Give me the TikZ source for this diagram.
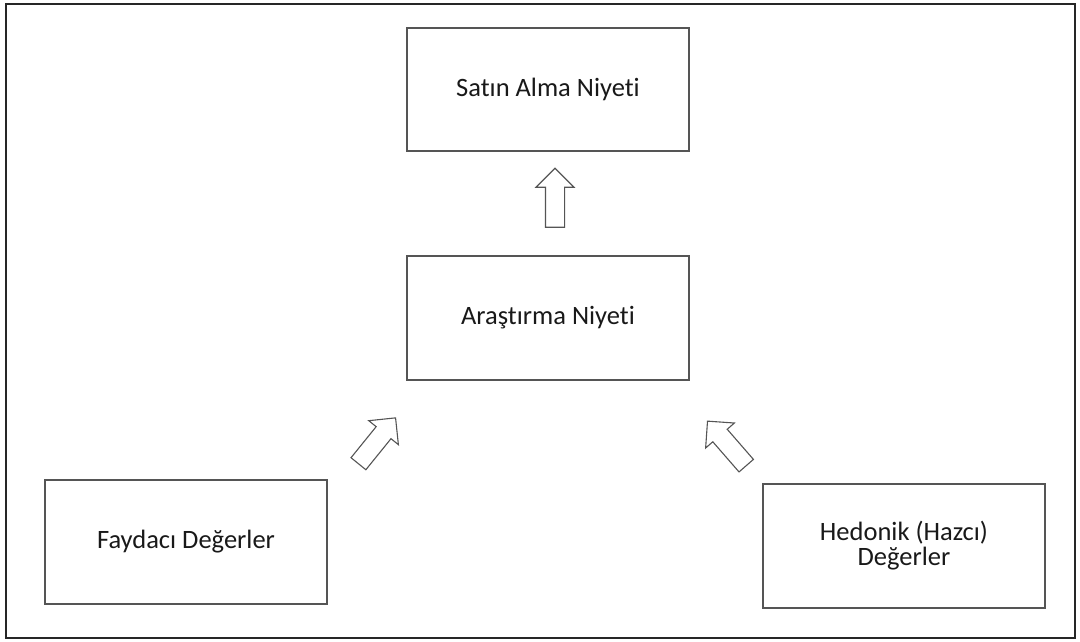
\documentclass[tikz,border=0pt]{standalone}
\usepackage{fontspec}
\setmainfont[Ligatures=NoCommon]{Carlito}
\usepackage{tikz}
\usetikzlibrary{shapes.arrows}
\definecolor{boxgray}{RGB}{85,85,85}
\tikzstyle{Construct}=[minimum width=282pt, fill=white, line width=1.3pt, draw=boxgray, shape=rectangle, text=black!90, align=center, font=\fontsize{26.5}{25}\selectfont]
\tikzstyle{BlockArrow}=[single arrow, draw=boxgray, line width=1.1pt, fill=white, inner xsep=0pt, inner ysep=9pt, minimum width=37pt, minimum height=59pt, single arrow head extend=9.5pt, single arrow tip angle=90]
\tikzstyle{frame}=[line width=2pt, draw=black!85]
\pgfdeclarelayer{nodelayer}
\pgfdeclarelayer{edgelayer}
\pgfsetlayers{nodelayer, edgelayer}
\begin{document}
\begin{tikzpicture}[x=1pt, y=-1pt]
	\useasboundingbox (0,0) rectangle (1080,641);
	\begin{pgfonlayer}{nodelayer}
		\node [style=Construct, minimum height=123pt] (purchase) at (548, 89.5) {Satın Alma Niyeti};
		\node [style=Construct, minimum height=124pt] (search) at (548, 318) {Araştırma Niyeti};
		\node [style=Construct, minimum height=124pt] (utilitarian) at (186, 542) {Faydacı Değerler};
		\node [style=Construct, minimum height=124pt] (hedonic) at (904, 546) {Hedonik (Hazcı)\\Değerler};
	\end{pgfonlayer}
	\begin{pgfonlayer}{edgelayer}
		% block arrows between the constructs
		\node [style=BlockArrow, rotate=90] (searchtopurchase) at (555, 202.5) {};
		\node [style=BlockArrow, rotate=51] (utilitariantosearch) at (374, 444.5) {};
		\node [style=BlockArrow, rotate=131] (hedonictosearch) at (730, 447) {};

		% outer frame
		\draw [style=frame] (6,4) rectangle (1075,638);
	\end{pgfonlayer}
\end{tikzpicture}
\end{document}
